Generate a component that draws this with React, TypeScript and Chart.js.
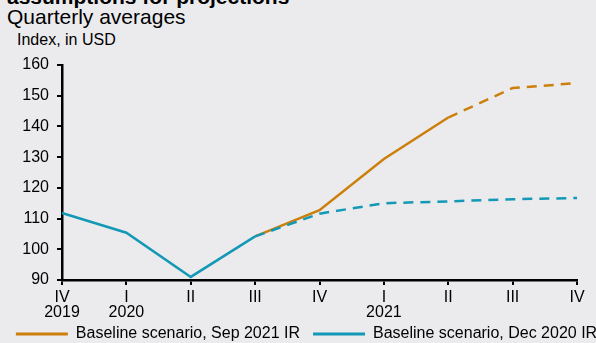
import React, { useEffect, useRef } from "react";
import { Chart, registerables } from "chart.js";

Chart.register(...registerables);

// Quarter labels (second line carries the year where a new year starts)
const quarterLabels: (string | string[])[] = [
  ["IV", "2019"],
  ["I", "2020"],
  "II",
  "III",
  "IV",
  ["I", "2021"],
  "II",
  "III",
  "IV",
];

// Baseline scenario, Sep 2021 IR (history shared with the Dec 2020 path)
const sep2021Values: (number | null)[] = [null, null, null, 104.2, 112.7, 129.4, 142.9, 152.5, 154.1];
// Baseline scenario, Dec 2020 IR
const dec2020Values: number[] = [111.8, 105.4, 91.0, 104.2, 111.6, 115.0, 115.6, 116.3, 116.7];

const seriesNames = ["Baseline scenario, Sep 2021 IR", "Baseline scenario, Dec 2020 IR"];

// Index of the first segment that is a projection (drawn dashed)
const sep2021ProjectionStart = 6;
const dec2020ProjectionStart = 3;

const yTicks = { min: 90, max: 160, step: 10 };

const ORANGE = "#CC800B";
const BLUE = "#1399B6";
const FONT = '"Liberation Sans", Arial, sans-serif';

// The canvas is a little wider than the visible frame so that both legend
// entries fit on one row; the extra strip on the right is clipped.
const CANVAS_W = 640;
const CANVAS_H = 343;

// Pulls the legend row up a little, closer to the axis labels.
const legendLift = {
  id: "legendLift",
  afterLayout(chart: any) {
    const lg = chart.legend;
    if (lg) {
      lg.top -= 12;
      lg.bottom -= 12;
    }
  },
};

export default function App() {
  const canvasRef = useRef<HTMLCanvasElement | null>(null);

  useEffect(() => {
    document.body.style.margin = "0";
    const canvas = canvasRef.current;
    if (!canvas) return;

    const chart = new Chart(canvas, {
      type: "line",
      data: {
        labels: quarterLabels,
        datasets: [
          {
            label: seriesNames[0],
            data: sep2021Values,
            borderColor: ORANGE,
            backgroundColor: ORANGE,
            borderWidth: 2.5,
            pointRadius: 0,
            tension: 0,
            order: 1,
            segment: {
              borderDash: (ctx: any) => (ctx.p0DataIndex >= sep2021ProjectionStart ? [10, 7] : undefined),
            },
          },
          {
            label: seriesNames[1],
            data: dec2020Values,
            borderColor: BLUE,
            backgroundColor: BLUE,
            borderWidth: 2.5,
            pointRadius: 0,
            tension: 0,
            order: 0,
            segment: {
              borderDash: (ctx: any) => (ctx.p0DataIndex >= dec2020ProjectionStart ? [10, 7] : undefined),
            },
          },
        ],
      },
      plugins: [legendLift],
      options: {
        animation: false,
        responsive: false,
        maintainAspectRatio: false,
        layout: { padding: { left: 0, right: 27, top: 65, bottom: -21 } },
        plugins: {
          tooltip: { enabled: false },
          title: { display: false },
          legend: {
            display: true,
            position: "bottom",
            labels: {
              font: { family: FONT, size: 16 },
              color: "#000",
              boxWidth: 52,
              boxHeight: 3,
              padding: 13,
              sort: (a: any, b: any) => a.datasetIndex - b.datasetIndex,
              generateLabels: (c: any) =>
                Chart.defaults.plugins.legend.labels.generateLabels(c).map((item: any) => ({
                  ...item,
                  lineWidth: 0,
                  lineDash: [],
                  fillStyle: item.strokeStyle,
                })),
            },
          },
        },
        scales: {
          x: {
            offset: false,
            border: { display: true, color: "#000", width: 2.5 },
            grid: {
              drawOnChartArea: false,
              drawTicks: true,
              tickLength: 5,
              color: "#000",
              lineWidth: 2,
            },
            ticks: {
              color: "#000",
              font: { family: FONT, size: 16, lineHeight: "15px" },
              padding: 5,
              maxRotation: 0,
              autoSkip: false,
            },
          },
          y: {
            min: yTicks.min,
            max: yTicks.max,
            border: { display: true, color: "#000", width: 2.5 },
            grid: {
              drawOnChartArea: false,
              drawTicks: true,
              tickLength: 5,
              color: "#000",
              lineWidth: 2,
            },
            ticks: {
              stepSize: yTicks.step,
              color: "#000",
              font: { family: FONT, size: 16 },
              padding: 8,
            },
            afterFit: (scale: any) => {
              scale.width = 62;
            },
          },
          // empty right-hand axis that only reserves the margin right of the plot
          yRight: {
            position: "right",
            display: true,
            border: { display: false },
            grid: { display: false, drawTicks: false },
            ticks: { display: false },
            afterFit: (scale: any) => {
              scale.width = 36;
            },
          },
        },
      },
    });

    return () => chart.destroy();
  }, []);

  return (
    <div
      style={{
        position: "relative",
        width: 596,
        height: 343,
        overflow: "hidden",
        background: "#EBEBEE",
        fontFamily: FONT,
        color: "#000",
      }}
    >
      <div style={{ position: "absolute", left: 7, top: -15, fontSize: 21, fontWeight: 700, whiteSpace: "nowrap", lineHeight: "24px" }}>
        assumptions for projections
      </div>
      <div style={{ position: "absolute", left: 7, top: 5, fontSize: 21, whiteSpace: "nowrap", lineHeight: "24px" }}>
        Quarterly averages
      </div>
      <div style={{ position: "absolute", left: 17, top: 31, fontSize: 16, whiteSpace: "nowrap", lineHeight: "18px" }}>
        Index, in USD
      </div>
      <canvas
        ref={canvasRef}
        width={CANVAS_W}
        height={CANVAS_H}
        style={{ position: "absolute", left: 0, top: 0 }}
      />
    </div>
  );
}
